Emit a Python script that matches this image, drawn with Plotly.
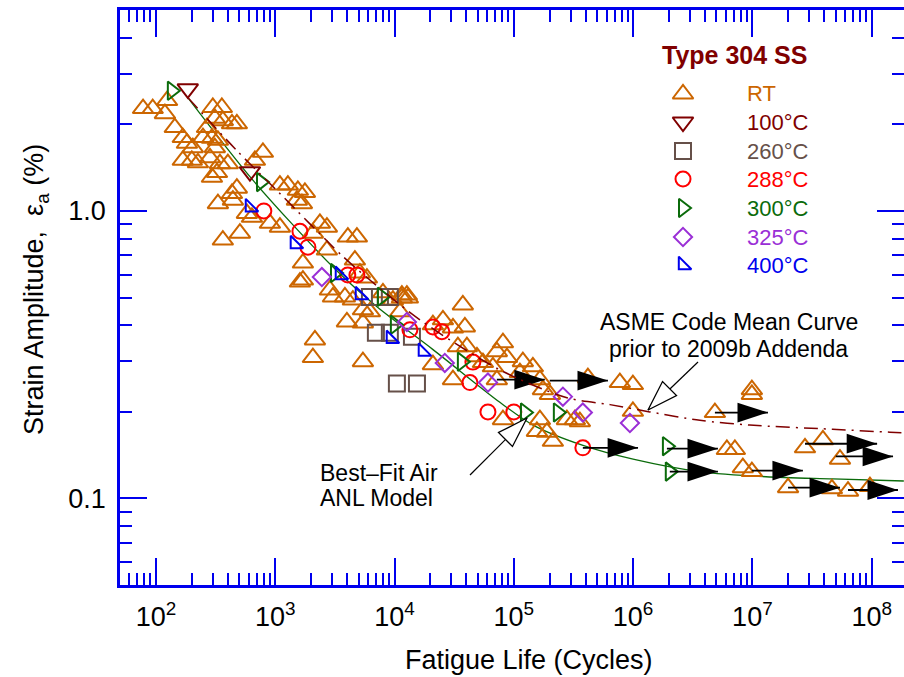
import numpy as np
import plotly.graph_objects as go

FONT = "Liberation Sans, Arial, Helvetica, sans-serif"
AXIS_BLUE = "#0000EE"

# ---------------- data (cycles, strain amplitude %) ----------------
rt_points = [
    (78, 2.27), (94, 2.27), (119, 2.18), (124, 2.42), (144, 1.95), (168, 1.80), (182, 1.72),
    (204, 1.66), (168, 1.50), (200, 1.50), (225, 1.47), (300, 2.29), (357, 2.29), (312, 2.10),
    (364, 2.06), (434, 2.01), (477, 2.01), (268, 1.95), (248, 1.80), (295, 1.79), (331, 1.76),
    (312, 1.66), (284, 1.53), (344, 1.46), (401, 1.46), (325, 1.36), (295, 1.31), (789, 1.60),
    (676, 1.50), (477, 1.20), (434, 1.15), (442, 1.09), (331, 1.06), (1095, 1.23), (1277, 1.23),
    (1549, 1.18), (1774, 1.16), (1520, 1.09), (1675, 1.06), (579, 0.98), (638, 0.95), (903, 0.906),
    (1095, 0.878), (2370, 0.906), (2713, 0.878), (2070, 0.837), (506, 0.837), (364, 0.792),
    (4065, 0.811), (4840, 0.811), (4656, 0.675), (2713, 0.731), (1707, 0.659), (1707, 0.575),
    (2875, 0.531), (5129, 0.608), (5871, 0.584), (2153, 0.356), (2070, 0.309), (5435, 0.299),
    (3990, 0.411), (5435, 0.408), (1611, 0.566), (3048, 0.502), (3840, 0.502), (4477, 0.490),
    (5435, 0.453), (6222, 0.446), (9700, 0.490), (11530, 0.498), (12950, 0.498), (11100, 0.446),
    (37400, 0.471), (20990, 0.402), (25460, 0.418), (30900, 0.392), (38900, 0.395), (20990, 0.292),
    (30900, 0.259), (33990, 0.337), (40450, 0.337), (49100, 0.311), (55100, 0.297), (66800, 0.287),
    (72100, 0.324), (8000, 0.519), (11530, 0.510), (12700, 0.510), (81100, 0.348), (87600, 0.309),
    (119100, 0.299), (144500, 0.287), (112500, 0.274), (165500, 0.259), (175400, 0.239),
    (200700, 0.230), (165500, 0.188), (156200, 0.171), (189400, 0.170), (212600, 0.158),
    (278600, 0.188), (325000, 0.188), (358000, 0.185), (81100, 0.188), (417800, 0.263),
    (774500, 0.253), (996000, 0.249), (996000, 0.201), (4.85e6, 0.199), (9.9e6, 0.239),
    (9.9e6, 0.230), (6.11e6, 0.148), (7.13e6, 0.148), (8.32e6, 0.128), (9.9e6, 0.124),
    (2.76e7, 0.150), (3.90e7, 0.160), (5.42e7, 0.137), (1.99e7, 0.109), (4.64e7, 0.108),
    (6.33e7, 0.106), (9.67e7, 0.110), (72100, 0.259),
]
t100_points = [(185, 2.66), (614, 1.37)]
t260_points = [(6222, 0.502), (7547, 0.502), (9140, 0.502), (6980, 0.377), (9140, 0.377),
               (14000, 0.365), (10470, 0.251), (15420, 0.251)]
t288_points = [(803, 1.0), (1611, 0.85), (1880, 0.748), (4060, 0.599), (4840, 0.599),
               (13460, 0.386), (21000, 0.395), (24950, 0.380), (45400, 0.298), (42870, 0.253),
               (60700, 0.200), (100000, 0.200), (379000, 0.150)]
t300_points = [(136, 2.62), (760, 1.26), (3170, 0.608), (7830, 0.503), (10070, 0.402),
               (36700, 0.299), (124000, 0.199), (234000, 0.199), (1.92e6, 0.152), (2.03e6, 0.124)]
t325_points = [(2460, 0.589), (12700, 0.411), (26400, 0.296), (60700, 0.253), (258000, 0.226),
               (379000, 0.199), (940000, 0.183)]
t400_points = [(614, 1.03), (1462, 0.767), (3487, 0.599), (5129, 0.510), (9330, 0.359),
               (17300, 0.324)]

# run-outs (specimens that did not fail)
runout_start_cycles = [72100, 200000, 379000, 1.92e6, 2.03e6, 4.85e6, 9.9e6, 2.76e7, 5.0e7, 1.99e7, 6.33e7]
runout_end_cycles = [182000, 615000, 1.1e6, 5.14e6, 5.14e6, 1.35e7, 2.65e7, 1.11e8, 1.51e8, 5.42e7, 1.66e8]
runout_strain = [0.259, 0.257, 0.150, 0.149, 0.124, 0.199, 0.125, 0.155, 0.140, 0.109, 0.107]

# curves
anl_cycles = [185, 650, 3050, 7130, 20900, 76400, 145000, 380000, 1.0e6, 3.6e6, 1.3e7, 4.7e7, 1.86e8]
anl_strain = [2.48, 1.28, 0.638, 0.464, 0.33, 0.216, 0.180, 0.153, 0.137, 0.124, 0.119, 0.117, 0.115]
asme_cycles = [185, 478, 1094, 3620, 6220, 16330, 76500, 279000, 640000, 1.38e6, 3.63e6, 9.5e6, 4.7e7, 1.42e8, 1.86e8]
asme_strain = [2.48, 1.62, 1.15, 0.70, 0.575, 0.418, 0.28, 0.224, 0.212, 0.200, 0.187, 0.180, 0.174, 0.170, 0.169]

x_tick_vals = [1e2, 1e3, 1e4, 1e5, 1e6, 1e7, 1e8]
x_tick_text = ["10<sup>%d</sup>" % k for k in range(2, 9)]
y_tick_vals = [0.1, 1.0]
y_tick_text = ["0.1", "1.0"]

series = [
    ("RT", rt_points, "triangle-up-open", "#CC6600", 18),
    ("100°C", t100_points, "triangle-down-open", "#800000", 18),
    ("260°C", t260_points, "square-open", "#665049", 16),
    ("288°C", t288_points, "circle-open", "#FF0000", 15),
    ("300°C", t300_points, "triangle-right-open", "#0B6B0B", 16),
    ("325°C", t325_points, "diamond-open", "#9A2FD6", 14),
    ("400°C", t400_points, "triangle-sw-open", "#0000EE", 14),
]

# layout (pixel) helpers for the legend / annotations, overlay axis in pixels
PLOT_L, PLOT_R, PLOT_T, PLOT_B = 120, 904, 10, 585
legend_x_sym, legend_x_txt = 683, 745
legend_rows = [94, 122, 151, 179, 208, 237, 265]

def px_to_paper_x(px):
    return (px - PLOT_L) / (PLOT_R - PLOT_L)

def px_to_paper_y(py):
    return (PLOT_B - py) / (PLOT_B - PLOT_T)

fig = go.Figure()

# curves
fig.add_trace(go.Scatter(x=anl_cycles, y=anl_strain, mode="lines",
                         line=dict(color="#0B6B0B", width=1.3, shape="spline", smoothing=0.8),
                         showlegend=False, hoverinfo="skip"))
fig.add_trace(go.Scatter(x=asme_cycles, y=asme_strain, mode="lines", yaxis="y2",
                         line=dict(color="#800000", width=1.5, dash="14px,6px,2px,6px", shape="spline", smoothing=0.8),
                         showlegend=False, hoverinfo="skip"))

for name, pts, sym, col, size in series:
    xs = [p[0] for p in pts]
    ys = [p[1] for p in pts]
    fig.add_trace(go.Scatter(x=xs, y=ys, mode="markers", name=name, showlegend=False,
                             marker=dict(symbol=sym, color=col, size=size, line=dict(width=2, color=col))))

# run-out arrows
sx, sy = [], []
for a, b, e in zip(runout_start_cycles, runout_end_cycles, runout_strain):
    sx += [a, b, None]
    sy += [e, e, None]
fig.add_trace(go.Scatter(x=sx, y=sy, mode="lines", line=dict(color="black", width=1.8),
                         showlegend=False, hoverinfo="skip"))
fig.add_trace(go.Scatter(x=runout_end_cycles, y=runout_strain, mode="markers", showlegend=False, hoverinfo="skip",
                         marker=dict(symbol="arrow", angle=90, size=32, color="black", line=dict(width=0))))

# legend symbols (overlay axes in pixel units)
for (name, pts, sym, col, size), row in zip(series, legend_rows):
    fig.add_trace(go.Scatter(x=[legend_x_sym], y=[row], xaxis="x3", yaxis="y3", mode="markers", showlegend=False,
                             hoverinfo="skip", marker=dict(symbol=sym, color=col, size=size, line=dict(width=2, color=col))))

# pointer arrows for curve labels (pixel units)
pointers = [((698, 362), (648, 410), 225), ((470, 475), (527, 418), 45)]
for tail, tip, ang in pointers:
    fig.add_trace(go.Scatter(x=[tail[0], tip[0]], y=[tail[1], tip[1]], xaxis="x3", yaxis="y3", mode="lines",
                             line=dict(color="black", width=1.2), showlegend=False, hoverinfo="skip"))
    fig.add_trace(go.Scatter(x=[tip[0]], y=[tip[1]], xaxis="x3", yaxis="y3", mode="markers", showlegend=False,
                             hoverinfo="skip", marker=dict(symbol="arrow", angle=ang, size=32, color="white",
                                                           line=dict(width=1.3, color="black"))))

annotations = []
def txt(x, y, s, size, color="black", xanchor="center", angle=0, bold=False):
    annotations.append(dict(x=px_to_paper_x(x), y=px_to_paper_y(y), xref="paper", yref="paper",
                            text=("<b>%s</b>" % s) if bold else s,
                            showarrow=False, xanchor=xanchor, yanchor="middle", textangle=angle,
                            font=dict(family=FONT, size=size, color=color)))

txt(734, 55, "Type 304 SS", 25, "#800000", bold=True)
for (name, pts, sym, col, size), row in zip(series, legend_rows):
    txt(legend_x_txt, row, name, 22, col, xanchor="left")
txt(729, 322, "ASME Code Mean Curve", 23)
txt(728, 349, "prior to 2009b Addenda", 23)
txt(318, 473, "Best\u2013Fit Air", 23, xanchor="left")
txt(318, 498, "ANL Model", 23, xanchor="left")
txt(529, 660, "Fatigue Life (Cycles)", 27)
txt(36, 290, "Strain Amplitude,  \u03b5<sub>a</sub> (%)", 27, angle=-90)

def minor_vals(lo_exp, hi_exp, lo, hi):
    vals = []
    for e in range(lo_exp, hi_exp + 1):
        for m in range(2, 10):
            v = m * 10.0 ** e
            if lo <= v <= hi:
                vals.append(v)
    return vals

x_minor = minor_vals(1, 8, 50, 2e8)
y_minor = minor_vals(-2, 0, 0.05, 5)

xr = [np.log10(50), 8 + (PLOT_R - 871.7) / 119.3]
yr = [np.log10(0.05), np.log10(5)]

common_tick = dict(ticks="inside", tickcolor=AXIS_BLUE, tickwidth=2, ticklen=27, showgrid=False, zeroline=False)
fig.update_layout(
    width=904, height=677,
    margin=dict(l=PLOT_L, r=904 - PLOT_R, t=PLOT_T, b=677 - PLOT_B),
    paper_bgcolor="white", plot_bgcolor="white",
    font=dict(family=FONT, color="black"),
    xaxis=dict(type="log", range=xr, showline=True, linecolor=AXIS_BLUE, linewidth=2.5, mirror="ticks",
               tickvals=x_tick_vals, ticktext=x_tick_text, tickfont=dict(size=27, family=FONT, color="black"),
               ticklabelstandoff=6,
               minor=dict(tickvals=x_minor, ticks="inside", ticklen=12, tickwidth=2, tickcolor=AXIS_BLUE),
               **common_tick),
    yaxis=dict(type="log", range=yr, showline=True, linecolor=AXIS_BLUE, linewidth=2.5, mirror=False,
               tickvals=y_tick_vals, ticktext=y_tick_text, tickfont=dict(size=27, family=FONT, color="black"),
               ticklabelstandoff=6,
               minor=dict(tickvals=y_minor, ticks="inside", ticklen=12, tickwidth=2, tickcolor=AXIS_BLUE),
               **common_tick),
    yaxis2=dict(type="log", range=yr, overlaying="y", side="right", anchor="x", showline=False,
                tickvals=y_tick_vals, showticklabels=False,
                minor=dict(tickvals=y_minor, ticks="inside", ticklen=12, tickwidth=2, tickcolor=AXIS_BLUE),
                **common_tick),
    xaxis3=dict(overlaying="x", range=[PLOT_L, PLOT_R], visible=False, anchor="y3"),
    yaxis3=dict(overlaying="y", range=[PLOT_B, PLOT_T], visible=False, anchor="x3"),
    annotations=annotations,
    showlegend=False,
)

fig.write_html("out.html", config={"displayModeBar": False},
               post_script="document.body.style.margin='0px';document.body.style.overflow='hidden';")
